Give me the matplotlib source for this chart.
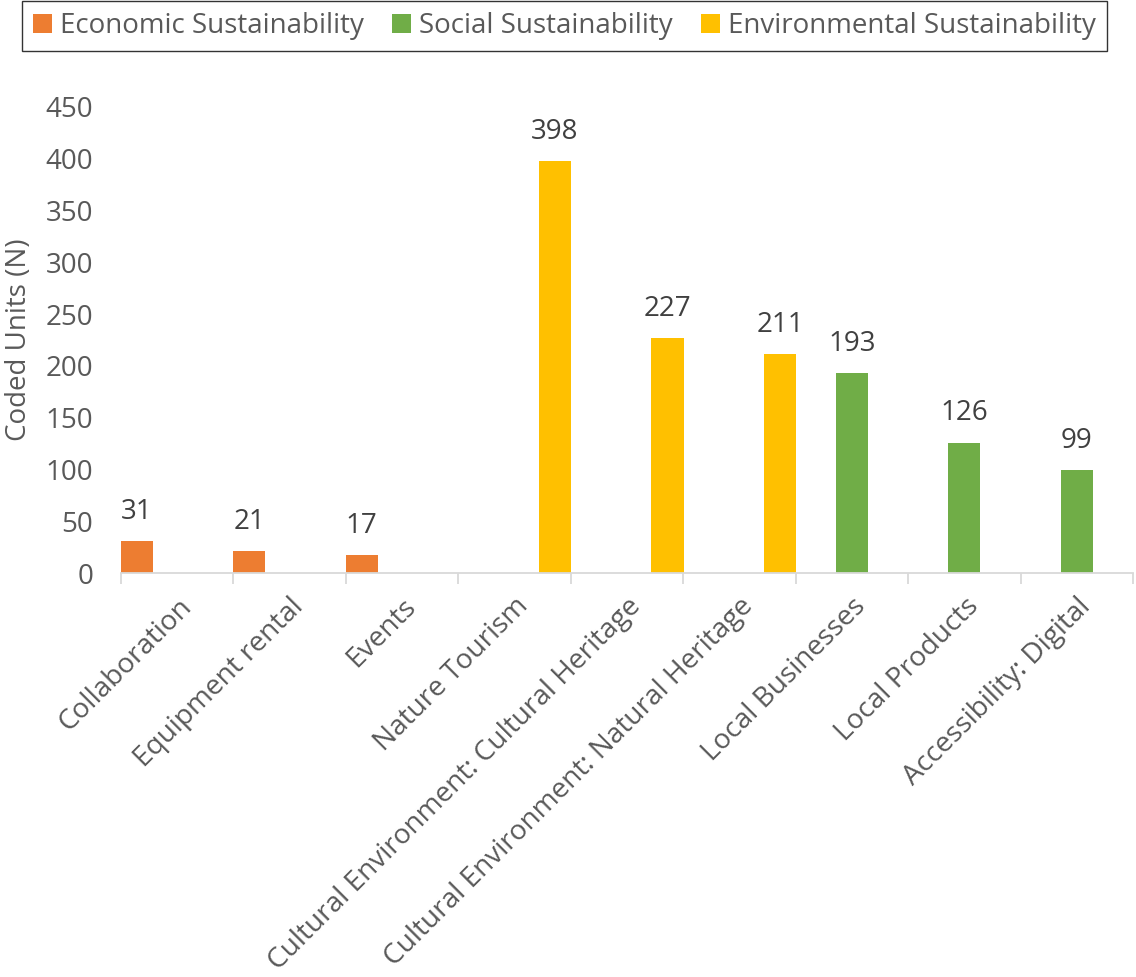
import matplotlib
matplotlib.use('Agg')
import matplotlib.pyplot as plt
import numpy as np

plt.rcParams['font.family'] = ['Open Sans', 'DejaVu Sans']

# Datos
categorias = ['Collaboration', 'Equipment rental', 'Events', 'Nature Tourism',
              'Cultural Environment: Cultural Heritage',
              'Cultural Environment: Natural Heritage',
              'Local Businesses', 'Local Products', 'Accessibility: Digital']
economic = [31, 21, 17, 0, 0, 0, 0, 0, 0]
social = [0, 0, 0, 0, 0, 0, 193, 126, 99]
environmental = [0, 0, 0, 398, 227, 211, 0, 0, 0]
series_names = ['Economic Sustainability', 'Social Sustainability', 'Environmental Sustainability']
colores = ['#ED7D31', '#70AD47', '#FFC000']

fig = plt.figure(figsize=(11.36, 9.77), dpi=100)
ax = fig.add_axes([0.1065, 0.4135, 0.8909, 0.477])

x = np.arange(len(categorias))
ancho = 0.285
offsets = [-0.36, 0.0, 0.36]
for serie, nombre, color, off in zip([economic, social, environmental], series_names, colores, offsets):
    bars = ax.bar(x + off, serie, width=ancho, color=color, label=nombre)
    etiquetas = [str(v) if v else '' for v in serie]
    ax.bar_label(bars, labels=etiquetas, padding=11, fontsize=20, color='#404040')

ax.set_xlim(-0.5, len(categorias) - 0.5)
ax.set_ylim(0, 450)
ax.set_yticks(np.arange(0, 451, 50))
ax.set_xticks(x)
ax.set_xticklabels(categorias, rotation=45, ha='right', va='top',
                   rotation_mode='anchor', fontsize=20.2, color='#595959')
ax.set_xticks(np.arange(-0.5, len(categorias), 1), minor=True)
ax.tick_params(axis='x', which='major', length=0, pad=14)
ax.tick_params(axis='x', which='minor', length=8, color='#D9D9D9', width=1.3)
ax.tick_params(axis='y', length=0, labelsize=20, labelcolor='#595959', pad=20)

for lado in ['top', 'right', 'left']:
    ax.spines[lado].set_visible(False)
ax.spines['bottom'].set_color('#D9D9D9')
ax.spines['bottom'].set_linewidth(1.3)

ax.set_ylabel('Coded Units (N)', fontsize=20, color='#595959', labelpad=9)

leg = fig.legend(loc='upper left', bbox_to_anchor=(0.0194, 0.999), ncol=3,
                 fontsize=20, frameon=True, fancybox=False, edgecolor='black',
                 handlelength=0.68, handleheight=0.68, handletextpad=0.3,
                 columnspacing=1.0, borderpad=0.4, borderaxespad=0)
leg.get_frame().set_linewidth(1.0)
for t in leg.get_texts():
    t.set_color('#595959')

plt.savefig('out.png', dpi=100, facecolor='white')
